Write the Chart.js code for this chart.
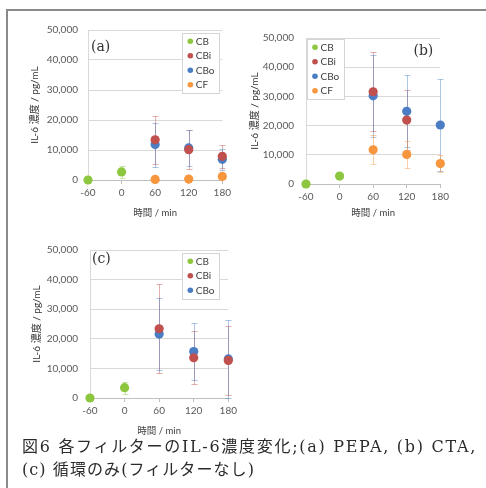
<!DOCTYPE html>
<html lang="ja">
<head>
<meta charset="utf-8">
<title>IL-6濃度変化</title>
<script src="https://cdn.jsdelivr.net/npm/chart.js@4.4.1/dist/chart.umd.min.js"></script>
<style>
  html, body { margin: 0; padding: 0; background: #fff; }
  body { width: 486px; height: 488px; position: relative; overflow: hidden; }
  .frame { position: absolute; left: 6px; top: 9px; right: -4px; bottom: -4px;
           border-top: 2px solid #8a8a8a; border-left: 2px solid #8a8a8a; }
  canvas { position: absolute; }
  #chartA { left: 10px; top: 14px; }
  #chartB { left: 245px; top: 20px; }
  #chartC { left: 10px; top: 232px; }
  .caption { position: absolute; left: 22px; white-space: nowrap; line-height: 16px;
             font-family: "DejaVu Serif", "Noto Sans CJK JP", serif; font-size: 16px; color: #2b2b2b; }
  #cap1 { top: 439px; }
  #cap2 { top: 462px; }
</style>
</head>
<body>
<div class="frame"></div>
<canvas id="chartA" width="224" height="209"></canvas>
<canvas id="chartB" width="207" height="203"></canvas>
<canvas id="chartC" width="230" height="206"></canvas>
<div class="caption" id="cap1" data-fit="455">図6 各フィルターのIL-6濃度変化;(a) PEPA, (b) CTA,</div>
<div class="caption" id="cap2" data-fit="233">(c) 循環のみ(フィルターなし)</div>

<script>
// x positions (time, min) and axis ticks
const timePoints = [-60, 0, 60, 120, 180];
const xTicks = [-60, 0, 60, 120, 180];
const yTicks = [0, 10000, 20000, 30000, 40000, 50000];

// (a) PEPA
const aCB = [0, 2700, null, null, null];
const aCBErr = [0, 2000, null, null, null];
const aCBi = [null, null, 13400, 10100, 7900];
const aCBiErr = [null, null, 8100, 6500, 3900];
const aCBo = [null, null, 11800, 10700, 6900];
const aCBoErr = [null, null, 7300, 6100, 3500];
const aCF = [null, null, 200, 300, 1200];
const aCFErr = [null, null, 300, 400, 800];

// (b) CTA
const bCB = [0, 2700, null, null, null];
const bCBErr = [0, 800, null, null, null];
const bCBi = [null, null, 31600, 21900, null];
const bCBiErr = [null, null, 13500, 10300, null];
const bCBo = [null, null, 30200, 24900, 20200];
const bCBoErr = [null, null, 14000, 12300, 15800];
const bCF = [null, null, 11700, 10100, 7000];
const bCFErr = [null, null, 5000, 4500, 3000];

// (c) 循環のみ
const cCB = [0, 3500, null, null, null];
const cCBErr = [0, 2000, null, null, null];
const cCBi = [null, null, 23400, 13600, 12700];
const cCBiErr = [null, null, 15000, 8900, 11700];
const cCBo = [null, null, 21600, 15700, 13200];
const cCBoErr = [null, null, 12300, 9600, 13300];

const colors = {
    CB: '#8DC63F',
    CBi: '#C0504D',
    CBo: '#4A7DC4',
    CF: '#F7963C'
};

function withAlpha(hex, a) {
    const n = parseInt(hex.slice(1), 16);
    return `rgba(${n >> 16}, ${(n >> 8) & 255}, ${n & 255}, ${a})`;
}

function series(name, values, errs) {
    return {
        label: name,
        data: timePoints
            .map((x, i) => ({ x: x, y: values[i], err: errs[i] }))
            .filter(p => p.y !== null),
        backgroundColor: colors[name],
        borderWidth: 0,
        pointRadius: 4.6,
        pointHoverRadius: 4.6,
        errorColor: withAlpha(colors[name], 0.45),
        clip: false
    };
}

// vertical error bars drawn through the chart's own scales
const errorBars = {
    id: 'errorBars',
    beforeDatasetsDraw(chart) {
        const { ctx, scales: { x, y } } = chart;
        ctx.save();
        ctx.lineWidth = 1;
        chart.data.datasets.forEach(ds => {
            ctx.strokeStyle = ds.errorColor;
            ds.data.forEach(p => {
                if (!p.err) return;
                const px = Math.round(x.getPixelForValue(p.x)) + 0.5;
                const top = Math.round(y.getPixelForValue(p.y + p.err)) + 0.5;
                const bot = Math.round(y.getPixelForValue(p.y - p.err)) + 0.5;
                ctx.beginPath();
                ctx.moveTo(px, top); ctx.lineTo(px, bot);
                ctx.moveTo(px - 3, top); ctx.lineTo(px + 3, top);
                ctx.moveTo(px - 3, bot); ctx.lineTo(px + 3, bot);
                ctx.stroke();
            });
        });
        ctx.restore();
    }
};

// legend box and (a)/(b)/(c) label inside the plot
const panelDecor = {
    id: 'panelDecor',
    afterDatasetsDraw(chart, args, opts) {
        const { ctx, chartArea: ca } = chart;
        const boxW = 38, rowH = 14.5;
        const n = chart.data.datasets.length;
        const boxH = n * rowH + 3;
        const left = opts.legendSide === 'right' ? ca.right - opts.legendDx - boxW : ca.left + opts.legendDx;
        const top = ca.top + opts.legendDy;
        ctx.save();
        ctx.fillStyle = '#fff';
        ctx.fillRect(left, top, boxW, boxH);
        ctx.strokeStyle = '#d4d4d4';
        ctx.lineWidth = 1;
        ctx.strokeRect(Math.round(left) + 0.5, Math.round(top) + 0.5, boxW - 1, Math.round(boxH) - 1);
        ctx.font = '10px Lato, "Noto Sans", sans-serif';
        ctx.textBaseline = 'middle';
        chart.data.datasets.forEach((ds, i) => {
            const cy = top + 1 + rowH * (i + 0.5);
            ctx.fillStyle = ds.backgroundColor;
            ctx.beginPath();
            ctx.arc(left + 8, cy, 2.8, 0, Math.PI * 2);
            ctx.fill();
            ctx.fillStyle = '#404040';
            ctx.fillText(ds.label, left + 13.5, cy + 0.5);
        });

        ctx.font = '14px "DejaVu Serif", serif';
        ctx.fillStyle = '#333';
        if (opts.labelSide === 'right') {
            ctx.textAlign = 'right';
            ctx.fillText(opts.label, ca.right - opts.labelDx, ca.top + opts.labelDy);
        } else {
            ctx.textAlign = 'left';
            ctx.fillText(opts.label, ca.left + opts.labelDx, ca.top + opts.labelDy);
        }
        ctx.restore();
    }
};

function makePanel(id, datasets, g) {
    new Chart(document.getElementById(id), {
        type: 'scatter',
        data: { datasets: datasets },
        plugins: [errorBars, panelDecor],
        options: {
            responsive: false,
            animation: false,
            devicePixelRatio: 1,
            layout: { padding: { left: 0, top: g.padTop, right: g.padRight, bottom: 0 } },
            plugins: {
                legend: { display: false },
                tooltip: { enabled: false },
                panelDecor: g.decor
            },
            scales: {
                x: {
                    type: 'linear',
                    min: -60,
                    max: 180,
                    afterBuildTicks: s => { s.ticks = xTicks.map(v => ({ value: v })); },
                    afterFit: s => { s.height = g.xHeight; },
                    grid: { drawOnChartArea: false, drawTicks: true, tickLength: 4, color: '#bfbfbf' },
                    border: { color: '#bfbfbf' },
                    ticks: {
                        padding: 3,
                        color: '#595959',
                        font: { family: 'Lato, "Noto Sans", sans-serif', size: 10 },
                        callback: v => String(v)
                    },
                    title: {
                        display: true,
                        text: '時間 / min',
                        color: '#404040',
                        font: { family: 'Lato, "Noto Sans CJK JP", sans-serif', size: 9.5 },
                        padding: { top: 0, bottom: g.xTitlePad }
                    }
                },
                y: {
                    min: 0,
                    max: 50000,
                    afterBuildTicks: s => { s.ticks = yTicks.map(v => ({ value: v })); },
                    afterFit: s => { s.width = g.yWidth; },
                    grid: { drawTicks: false, color: '#d9d9d9' },
                    border: { color: '#d9d9d9' },
                    ticks: {
                        padding: g.yTickPad,
                        color: '#595959',
                        font: { family: 'Lato, "Noto Sans", sans-serif', size: 10 },
                        callback: v => v.toLocaleString('en-US')
                    },
                    title: {
                        display: true,
                        text: 'IL-6 濃度 / pg/mL',
                        color: '#333',
                        font: { family: 'Lato, "Noto Sans CJK JP", sans-serif', size: 10 },
                        padding: { top: g.yTitlePad, bottom: 0 }
                    }
                }
            }
        }
    });
}

makePanel('chartA', [
    series('CB', aCB, aCBErr),
    series('CBi', aCBi, aCBiErr),
    series('CBo', aCBo, aCBoErr),
    series('CF', aCF, aCFErr)
], {
    padTop: 13, padRight: 5, xHeight: 43, yWidth: 78, yTickPad: 10, xTitlePad: 4.3, yTitlePad: 19,
    decor: { label: '(a)', labelSide: 'left', labelDx: 3, labelDy: 17.5,
             legendSide: 'right', legendDx: 2, legendDy: 3 }
});

makePanel('chartB', [
    series('CB', bCB, bCBErr),
    series('CBi', bCBi, bCBiErr),
    series('CBo', bCBo, bCBoErr),
    series('CF', bCF, bCFErr)
], {
    padTop: 12, padRight: 5, xHeight: 39, yWidth: 61, yTickPad: 12, xTitlePad: 4.3, yTitlePad: 4,
    decor: { label: '(b)', labelSide: 'right', labelDx: 7, labelDy: 13,
             legendSide: 'left', legendDx: 1, legendDy: 1 }
});

makePanel('chartC', [
    series('CB', cCB, cCBErr),
    series('CBi', cCBi, cCBiErr),
    series('CBo', cCBo, cCBoErr)
], {
    padTop: 14, padRight: 7, xHeight: 40, yWidth: 80, yTickPad: 12, xTitlePad: 1.3, yTitlePad: 21,
    decor: { label: '(c)', labelSide: 'left', labelDx: 2, labelDy: 9.5,
             legendSide: 'right', legendDx: 8, legendDy: 3 }
});

// stretch the caption lines to the width they take in the figure
document.querySelectorAll('.caption').forEach(el => {
    const target = Number(el.dataset.fit);
    const chars = el.textContent.length;
    const w = el.getBoundingClientRect().width;
    el.style.letterSpacing = ((target - w) / chars) + 'px';
});
</script>
</body>
</html>
